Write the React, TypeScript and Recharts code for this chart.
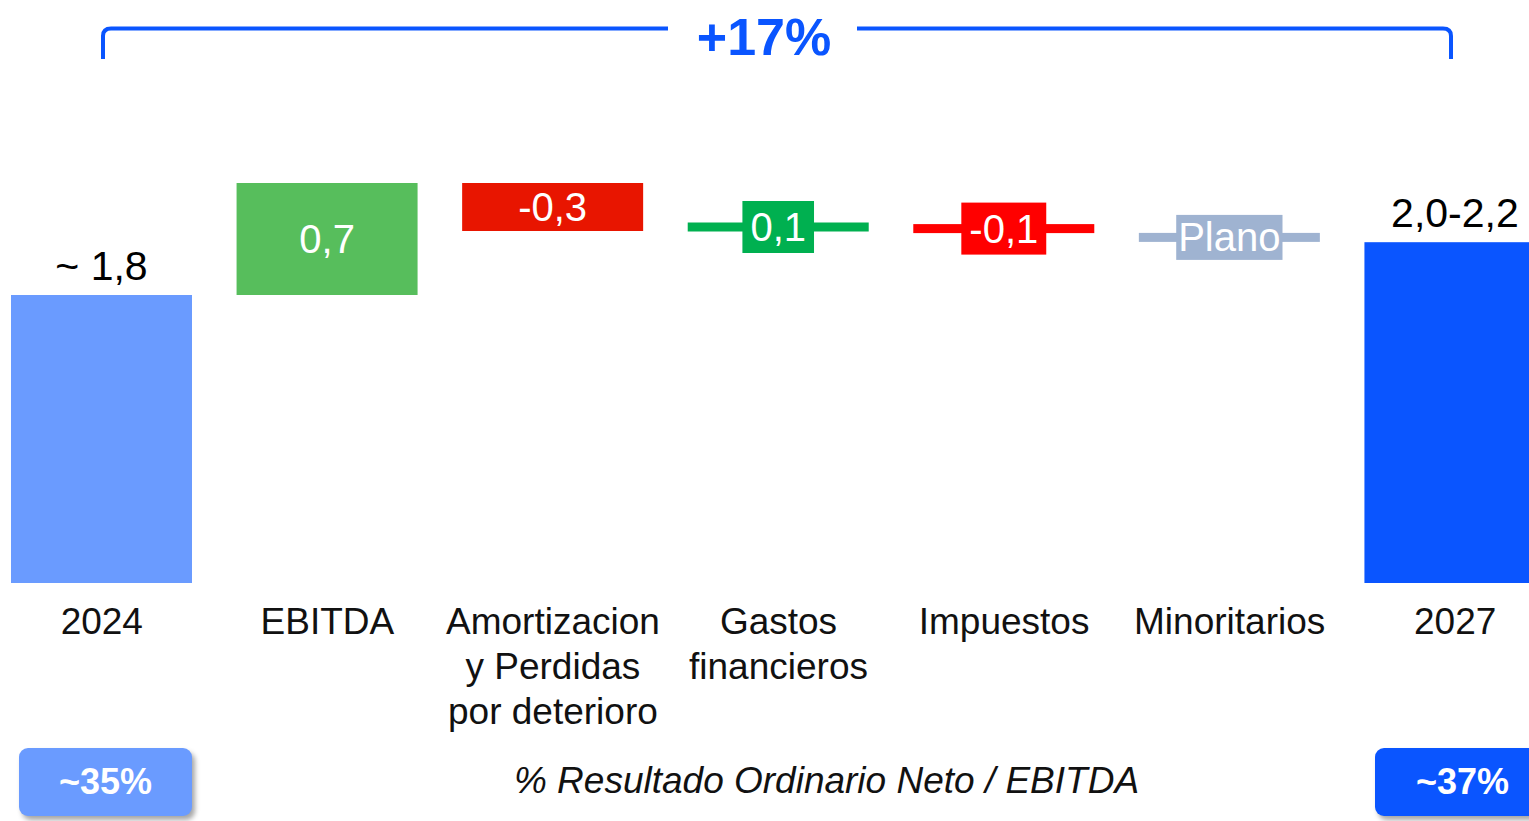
import React from 'react';
import { BarChart, Bar, XAxis, YAxis } from 'recharts';

const categories = ['2024', 'EBITDA', 'Amortizacion\ny Perdidas\npor deterioro', 'Gastos\nfinancieros', 'Impuestos', 'Minoritarios', '2027'];
const baseValues = [0, 1.8, 2.2, null, null, null, 0];
const deltaValues = [1.8, 0.7, 0.3, null, null, null, 2.13];
const levelValues = [null, null, null, 2.225, 2.215, 2.16, null];
const valueLabels = ['~ 1,8', '0,7', '-0,3', '0,1', '-0,1', 'Plano', '2,0-2,2'];
const labelKinds = ['above', 'inside', 'inside', 'box', 'box', 'box', 'above'];
const barColors = ['#6A9BFF', '#57BE5C', '#E81500', '#00B050', '#FF0000', '#9FB3D1', '#0A55FF'];
const ratioLabels = ['~35%', '~37%'];
const totalChange = '+17%';
const ratioCaption = '% Resultado Ordinario Neto / EBITDA';

const data = categories.map((name, i) => ({
  name,
  base: baseValues[i],
  delta: deltaValues[i],
  level: levelValues[i],
  label: valueLabels[i],
  kind: labelKinds[i],
  color: barColors[i],
}));

const FONT = '"Liberation Sans", Arial, sans-serif';

// rough Arial widths, for sizing the little label boxes
const charW: Record<string, number> = { ',': 0.278, '-': 0.333, P: 0.667, l: 0.222 };
const textWidth = (s: string, size: number) =>
  s.split('').reduce((acc, c) => acc + (charW[c] ?? 0.556), 0) * size;

const CategoryTick = (props: any) => {
  const { x, y, payload } = props;
  const lines = String(payload.value).split('\n');
  return (
    <text x={x} y={y + 51} textAnchor="middle" fontFamily={FONT} fontSize={37} fill="#111">
      {lines.map((l, i) => (
        <tspan key={i} x={x} dy={i === 0 ? 0 : 45}>{l}</tspan>
      ))}
    </text>
  );
};

// waterfall block + its value text
const DeltaShape = (props: any) => {
  const { x, y, width, height, payload } = props;
  if (payload.delta == null) return null;
  const cx = x + width / 2;
  return (
    <g>
      <rect x={x} y={y} width={width} height={height} fill={payload.color} />
      {payload.kind === 'above' ? (
        <text x={cx} y={y - 15} textAnchor="middle" fontFamily={FONT} fontSize={41} fill="#000">
          {payload.label}
        </text>
      ) : (
        <text x={cx} y={y + height / 2 + 14} textAnchor="middle" fontFamily={FONT} fontSize={40} fill="#fff">
          {payload.label}
        </text>
      )}
    </g>
  );
};

// flat level marker with a boxed label
const LevelShape = (props: any) => {
  const { x, y, width, payload } = props;
  if (payload.level == null) return null;
  const cx = x + width / 2;
  const numeric = /^[-0-9]/.test(payload.label);
  const bw = textWidth(payload.label, 40) + (numeric ? 16 : 4);
  const bh = numeric ? 52 : 45;
  return (
    <g>
      <rect x={x} y={y - 4.5} width={width} height={9} fill={payload.color} />
      <rect x={cx - bw / 2} y={y - bh / 2} width={bw} height={bh} fill={payload.color} />
      <text x={cx} y={y + 14} textAnchor="middle" fontFamily={FONT} fontSize={40} fill="#fff">
        {payload.label}
      </text>
    </g>
  );
};

const boxStyle: React.CSSProperties = {
  position: 'absolute',
  top: 748,
  height: 68,
  borderRadius: 9,
  color: '#fff',
  fontFamily: FONT,
  fontWeight: 700,
  fontSize: 36,
  lineHeight: '68px',
  textAlign: 'center',
  boxShadow: '3px 4px 5px rgba(0,0,0,0.35)',
};

export default function App() {
  return (
    <div style={{ position: 'absolute', left: 0, top: 0, width: 1529, height: 821, overflow: 'hidden', background: '#fff' }}>
      <div style={{ position: 'absolute', left: -11, top: 0 }}>
        <BarChart width={1579} height={821} data={data} margin={{ top: 7, right: 0, left: 0, bottom: 88 }} barSize={181}>
          <XAxis dataKey="name" axisLine={false} tickLine={false} tickSize={0} tickMargin={0} interval={0} height={150} tick={<CategoryTick />} />
          <YAxis hide domain={[0, 3.6]} />
          <Bar dataKey="base" stackId="a" fill="transparent" isAnimationActive={false} />
          <Bar dataKey="delta" stackId="a" isAnimationActive={false} shape={<DeltaShape />} />
          <Bar dataKey="level" stackId="a" isAnimationActive={false} shape={<LevelShape />} />
        </BarChart>
      </div>

      <svg width={1529} height={80} style={{ position: 'absolute', left: 0, top: 0 }}>
        <path d="M103,59 V36 Q103,28.5 111,28.5 H668 M857,28.5 H1443 Q1451,28.5 1451,36 V59" fill="none" stroke="#0A55FF" strokeWidth={4} />
        <text x={764} y={55} textAnchor="middle" fontFamily={FONT} fontWeight={700} fontSize={52} fill="#0A55FF">
          {totalChange}
        </text>
      </svg>

      <div style={{ ...boxStyle, left: 19, width: 173, background: '#6A9BFF' }}>{ratioLabels[0]}</div>
      <div style={{ ...boxStyle, left: 1375, width: 175, background: '#0A55FF', paddingRight: 20 }}>{ratioLabels[1]}</div>
      <div style={{ position: 'absolute', left: 0, top: 760, width: 1653, textAlign: 'center', fontFamily: FONT, fontStyle: 'italic', fontSize: 37, color: '#111' }}>
        {ratioCaption}
      </div>
    </div>
  );
}
